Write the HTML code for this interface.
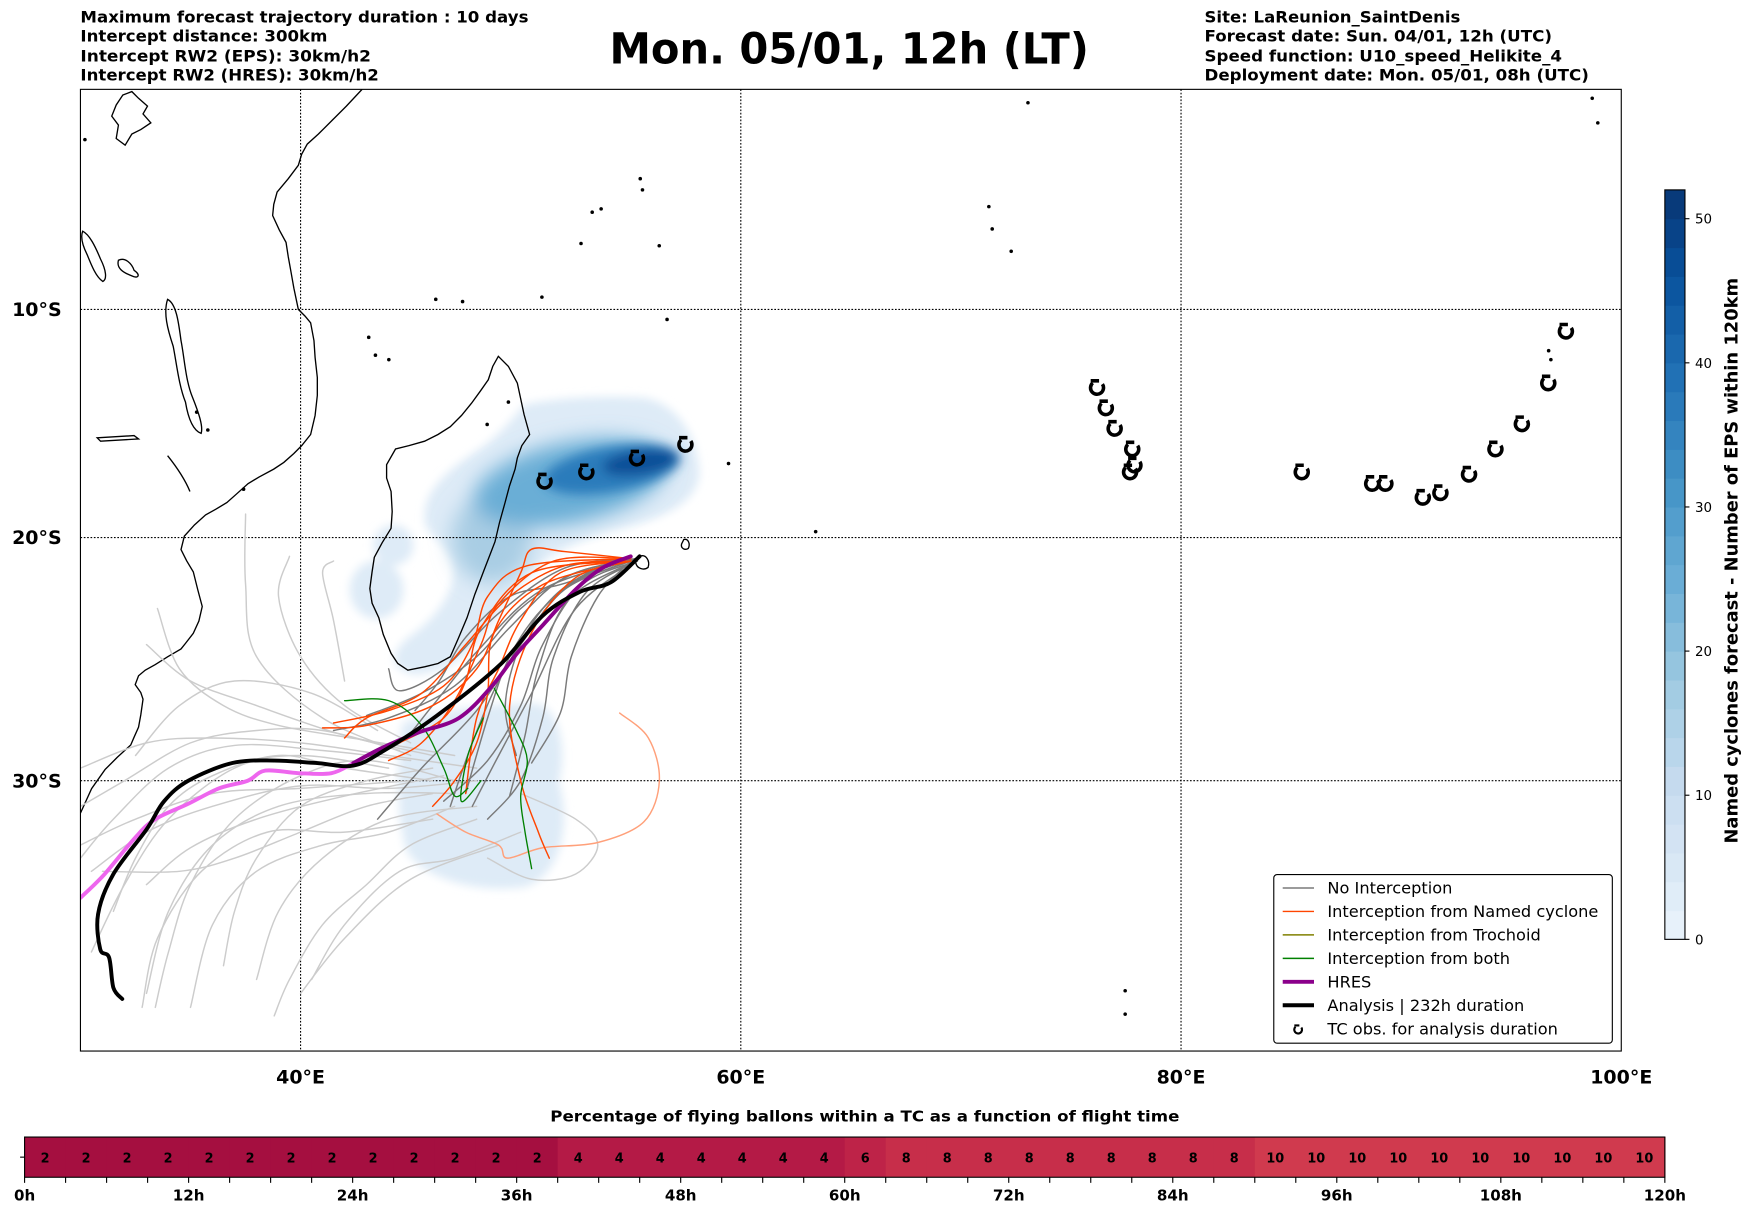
<!DOCTYPE html>
<html><head><meta charset="utf-8">
<style>
html,body{margin:0;padding:0;background:#fff;}
svg{display:block;}
text{font-family:"DejaVu Sans","Liberation Sans",sans-serif;}
</style></head>
<body>
<svg id="fig" xmlns="http://www.w3.org/2000/svg" width="1752" height="1213" viewBox="0 0 1568 1086" preserveAspectRatio="none">
<defs>
<filter id="blur" x="-50%" y="-50%" width="200%" height="200%"><feGaussianBlur stdDeviation="9"/></filter>
<filter id="blurh" x="-50%" y="-50%" width="200%" height="200%"><feGaussianBlur stdDeviation="4"/></filter>
<filter id="blur2" x="-50%" y="-50%" width="200%" height="200%"><feGaussianBlur stdDeviation="5"/></filter>
<clipPath id="mapclip"><rect x="72" y="80" width="1379" height="861"/></clipPath>
</defs>
<g font-weight="bold" font-size="14.3">
<text x="72" y="20" textLength="401" lengthAdjust="spacingAndGlyphs">Maximum forecast trajectory duration : 10 days</text>
<text x="72" y="37" textLength="221" lengthAdjust="spacingAndGlyphs">Intercept distance: 300km</text>
<text x="72" y="55" textLength="260" lengthAdjust="spacingAndGlyphs">Intercept RW2 (EPS):  30km/h2</text>
<text x="72" y="72" textLength="267" lengthAdjust="spacingAndGlyphs">Intercept RW2 (HRES): 30km/h2</text>
</g>
<text x="760" y="57" text-anchor="middle" font-weight="bold" font-size="38" textLength="429" lengthAdjust="spacingAndGlyphs">Mon. 05/01, 12h (LT)</text>
<g font-weight="bold" font-size="14.3">
<text x="1078" y="20" textLength="229" lengthAdjust="spacingAndGlyphs">Site: LaReunion_SaintDenis</text>
<text x="1078" y="37" textLength="311" lengthAdjust="spacingAndGlyphs">Forecast date: Sun. 04/01, 12h (UTC)</text>
<text x="1078" y="55" textLength="320" lengthAdjust="spacingAndGlyphs">Speed function: U10_speed_Helikite_4</text>
<text x="1078" y="72" textLength="344" lengthAdjust="spacingAndGlyphs">Deployment date: Mon. 05/01, 08h (UTC)</text>
</g>
<g id="map" clip-path="url(#mapclip)"></g>
<rect x="72" y="80" width="1379" height="861" fill="none" stroke="#000" stroke-width="1"/>
<g id="axes"></g>
<g id="legend"></g>
<g id="cbar"></g>
<g id="pbar"></g>
</svg>
<script>
// ---------- data ----------
const lonTicks = [40, 60, 80, 100];
const latTicks = [10, 20, 30];
const analysisTrack = [[55.4,20.8],[54.1,21.9],[52.7,22.3],[51.0,23.3],[49.1,25.3],[46.2,27.4],[43.8,28.8],[42.4,29.4],[40.7,29.3],[38.8,29.2],[36.9,29.3],[34.9,30.0],[33.8,30.8],[33.0,31.9],[31.5,33.6],[30.8,35.1],[30.9,36.4],[31.3,36.7],[31.5,37.8],[31.9,38.2]];
const hresTrack = [[55.0,20.8],[53.7,21.3],[52.5,22.2],[51.0,23.7],[49.8,24.9],[48.7,26.2],[47.2,27.5],[45.3,28.1],[43.7,28.7],[42.4,29.3]];
const hresTail = [[42.4,29.3],[41.4,29.7],[39.9,29.7],[38.4,29.6],[37.6,30.0],[36.3,30.3],[34.9,30.9],[33.4,31.5],[32.5,32.2],[31.1,33.6],[30.0,34.5]];
const lightTracks = [
 [[48,29.5],[44,29],[40,28.5],[36,28.3],[33,28.5],[30,29.5]],
 [[48,30],[44,30.3],[40,30.2],[36,31],[33,32],[30.5,33.5]],
 [[47,30.5],[43,30.5],[39,31],[36,32.5],[34,35],[33,38]],
 [[46,29],[42,28.2],[38,27],[35,26],[33,24.5]],
 [[45,29],[41,27.5],[38,25],[37.5,22],[37.5,19]],
 [[46,30],[42,29.5],[39,29],[36,29.8],[34,31],[32.5,33],[31.5,35]],
 [[47,31],[44,32],[41,32.5],[38,33.5],[36,35.5],[35,38.5]],
 [[48,31.5],[45,32.5],[43,34],[41,35.5],[39.5,37.5],[38.8,38.8]],
 [[46,29.5],[43,30],[40,31],[38,33],[37,35],[36.5,37]],
 [[47,30],[43,29.2],[40,29.8],[37,31.5],[35,34],[34,36.5],[33.4,38.5]],
 [[44.5,28.8],[41,28],[38,28],[35,28.5],[32,30],[30,31]],
 [[50,32],[47,33],[44.5,33.5],[42,35.5],[40.5,37.5]],
 [[50,30.5],[52.5,31.5],[53.5,32.5],[52.5,33.6],[50.5,33.8],[48.5,33]],
 [[45,28.5],[42,27],[40,25],[39,22.5],[39.5,20.8]],
 [[43.5,28],[40.5,26.5],[37,26],[34.5,27],[32.5,29]],
 [[42,26],[41.5,23.5],[41,21.5],[41.5,21]],
 [[46,30.5],[43,31],[40,32],[37,33],[34.5,33.5],[31,33.5]],
 [[48,31],[44,31.5],[41,33],[39,35],[38,37.5]],
 [[45,30],[40,30.3],[36,30.5],[32.5,31.5],[30,32.5]],
 [[49,32.5],[45,33.8],[42,36],[40,38]],
 [[44,29.5],[40,29],[37,29.5],[34,31.5],[32,34],[30.5,36.5]],
 [[46,31.5],[42,32],[38.5,32],[35.5,33.5],[33.5,36],[32.8,38.5]],
 [[47,29],[43,28.4],[39,27.8],[36.5,27],[34.5,25.5],[33.5,23]],
 [[45,29.2],[41,28.8],[37,28.6],[34,29.5],[31.5,31.5],[30,33]],
 [[46.5,29.8],[42,30.6],[38,31.5],[35,32.6],[33,34]]
];
const darkTracks = [
 [[55.3,20.9],[53,21.6],[51,23],[49.5,25],[48.5,27.5],[47.5,30.5]],
 [[55.3,20.9],[52.5,21.8],[50.5,23.8],[49,26],[47.8,28.5],[46.8,31]],
 [[55.3,20.9],[53.5,21.3],[51.5,22.5],[50,24.5],[49.3,27],[49.8,29]],
 [[55.3,21],[52.8,22],[51,24.5],[50,27],[48.5,29.2],[46.5,30.8]],
 [[55.3,20.9],[52,21.7],[49.5,23.8],[47,26.2],[44,27.5],[41.5,28]],
 [[55.3,20.9],[52.5,21.5],[50,23],[48,25],[45.5,26.5],[43,27.4]],
 [[55.3,21],[53,22.3],[51.5,25],[51,27.5],[50,30],[48.5,31.5]],
 [[55,21],[53.5,22.5],[52.3,25],[51.8,27.3],[50.5,29.3]],
 [[55,21],[52,22.2],[50,24.5],[48,27.2],[45.5,29.5],[43.5,31.5]],
 [[55,21],[51.8,22],[49.5,22.5],[47.5,24.2],[46.3,26],[45.2,27.2]],
 [[55.3,20.9],[51,22.2],[48,24.8],[46,27],[44.5,28.5],[42.5,29.2]],
 [[55.3,21],[52.5,23],[50.5,26.5],[49,29],[47.8,31]],
 [[55.2,21],[52.2,22.6],[50.8,25.5],[50.2,28.2],[49.5,30.6]],
 [[55.2,20.9],[52,21.3],[49,23.2],[46.5,25.5],[44.5,26.4],[44,25.5]]
];
const orangeTracks = [
 [[55,20.9],[52,20.6],[50.5,20.5],[50,21.5],[49,23.5],[48,25.5],[46,27],[43,27.8],[41,27.9]],
 [[55,21],[52,21.2],[49.5,22.5],[47.5,24.5],[45.5,26.5],[43,27.5],[42,28.3]],
 [[55,20.9],[51.5,21],[49,22.8],[48.2,24.5],[47,26.8],[45.5,28.5],[44,29.2]],
 [[55,21],[51,22],[48.8,24],[48.5,26.5],[48,28.5],[47,30],[46,31]],
 [[55,21],[50.5,21.5],[48.2,23.8],[47.5,26],[46.5,27.5],[44.5,28.5]],
 [[55,21],[52.5,21.7],[50.5,24],[49.5,27],[50,30],[50.8,32],[51.3,33]],
 [[55,21],[51.8,21.5],[50,23.5],[49,25.5],[48,27.5],[47.5,30.5]],
 [[55,20.9],[50.3,21.2],[48.5,22.5],[47.8,24.5],[46.5,26.2],[44,27.2],[41.5,27.7]]
];
const salmonTrack = [[54.5,27.3],[55.8,28.3],[56.3,30],[55.6,31.6],[53.5,32.4],[51,32.6],[49.4,33],[49,32.5],[47.5,32],[46.2,31.3]];
const greenTracks = [
 [[48.8,26.3],[49.8,28],[50.3,29.2],[50,30.6],[50.2,32],[50.5,33.4]],
 [[42,26.8],[44,26.8],[45.5,27.8],[46.5,29.5],[47,30.6],[47.6,30.3]],
 [[48.3,27.5],[47.6,29],[47.3,30.8],[48.2,30.0]]
];
const tcLon = [51.1,53.0,55.3,57.5,76.2,76.6,77.0,77.8,77.9,77.7,85.5,88.7,89.3,91.0,91.8,93.1,94.3,95.5,96.7,97.5];
const tcLat = [17.6,17.2,16.6,16.0,13.5,14.4,15.3,16.2,16.9,17.2,17.2,17.7,17.7,18.3,18.1,17.3,16.2,15.1,13.3,11.0];
const cbarTicks = [0,10,20,30,40,50];
const pctValues = [2,2,2,2,2,2,2,2,2,2,2,2,2,4,4,4,4,4,4,4,6,8,8,8,8,8,8,8,8,8,10,10,10,10,10,10,10,10,10,10];
const hourTicks = [0,12,24,36,48,60,72,84,96,108,120];

// ---------- projection ----------
const NS="http://www.w3.org/2000/svg";
function X(lon){return 72+(lon-30)*19.7;}
function Y(lat){return 79+1128.7*Math.log(Math.tan(Math.PI/4+lat*Math.PI/360));}
function mk(tag,attrs,parent){const e=document.createElementNS(NS,tag);for(const k in attrs)e.setAttribute(k,attrs[k]);parent.appendChild(e);return e;}
function smooth(pts){
 const p=pts.map(q=>[X(q[0]),Y(q[1])]);
 let d="M"+p[0][0].toFixed(1)+","+p[0][1].toFixed(1);
 for(let i=0;i<p.length-1;i++){
  const p0=p[i-1]||p[i],p1=p[i],p2=p[i+1],p3=p[i+2]||p2;
  const c1=[p1[0]+(p2[0]-p0[0])/6,p1[1]+(p2[1]-p0[1])/6];
  const c2=[p2[0]-(p3[0]-p1[0])/6,p2[1]-(p3[1]-p1[1])/6];
  d+="C"+c1[0].toFixed(1)+","+c1[1].toFixed(1)+" "+c2[0].toFixed(1)+","+c2[1].toFixed(1)+" "+p2[0].toFixed(1)+","+p2[1].toFixed(1);
 }
 return d;
}
const map=document.getElementById('map');

// density field (blurred shapes)
const densH=mk('g',{filter:'url(#blurh)'},map);


mk('path',{d:'M380,465 C378,435 410,415 432,400 C452,385 462,370 470,362 C500,356 540,354 575,356 C605,360 625,390 626,425 C622,455 585,466 545,476 C505,488 472,505 452,540 C432,575 412,600 372,604 C346,600 348,582 372,566 C398,546 410,520 405,502 C396,482 380,478 380,465 Z',fill:'#deebf7'},densH);
mk('path',{d:'M360,648 C380,638 440,628 482,630 C505,640 506,680 500,700 C510,730 506,782 470,794 C430,800 380,788 364,762 C354,730 356,680 360,648 Z',fill:'#deebf7'},densH);
mk('ellipse',{cx:337,cy:528,rx:24,ry:26,fill:'#deebf7'},densH);
mk('ellipse',{cx:352,cy:488,rx:18,ry:18,fill:'#deebf7'},densH);
const dens=mk('g',{filter:'url(#blur)'},map);


mk('ellipse',{cx:440,cy:482,rx:36,ry:40,fill:'#a9cde4'},dens);
mk('ellipse',{cx:510,cy:432,rx:88,ry:36,fill:'#6aaed6',transform:'rotate(-12 510 432)'},dens);
const dens2=mk('g',{filter:'url(#blur2)'},map);
mk('ellipse',{cx:548,cy:420,rx:62,ry:20,fill:'#2c7cbb',transform:'rotate(-10 548 420)'},dens2);
mk('ellipse',{cx:573,cy:414,rx:34,ry:11,fill:'#0b4f98',transform:'rotate(-8 573 414)'},dens2);

// gridlines
latTicks.forEach(t=>{const l=mk('line',{x1:72,x2:1451,y1:Y(t),y2:Y(t),stroke:'#000','stroke-width':1,'stroke-dasharray':'1.5,1.5'},map);
 
 });
lonTicks.slice(0,3).forEach(t=>{const l=mk('line',{x1:X(t),x2:X(t),y1:80,y2:941,stroke:'#000','stroke-width':1,'stroke-dasharray':'1.5,1.5'},map);
 
 });

// coastlines
const coast=mk('g',{fill:'none',stroke:'#000','stroke-width':1.2},map);


mk('path',{d:'M324,80 L310,95 L297,108 L285,120 L275,129 L270,138 L267,148 L258,160 L248,172 L245,183 L244,193 L250,206 L256,217 L258,230 L260,241 L263,258 L267,277 L273,283 L278,289 L281,305 L282,320 L284,338 L284,354 L282,372 L278,389 L270,399 L263,406 L254,414 L245,420 L232,427 L222,433 L212,442 L203,450 L193,456 L184,461 L174,470 L165,480 L162,492 L167,502 L173,512 L177,528 L181,543 L178,556 L173,567 L166,576 L162,581 L150,588 L139,595 L130,600 L124,605 L121,613 L126,620 L128,626 L126,640 L124,651 L120,660 L117,667 L105,678 L94,689 L82,706 L72,728'},coast);
mk('path',{d:'M446,319 L455,328 L463,343 L466,357 L469,371 L474,389 L467,399 L463,410 L461,420 L456,435 L452,450 L447,468 L443,485 L438,498 L433,511 L425,532 L418,553 L410,572 L403,588 L392,594 L380,597 L365,600 L356,594 L350,585 L343,568 L339,553 L333,540 L331,527 L333,512 L335,499 L342,486 L350,473 L351,458 L350,440 L346,428 L346,416 L354,402 L366,399 L380,395 L392,389 L403,382 L413,372 L422,361 L430,350 L437,340 L441,328 Z'},coast);
mk('path',{d:'M150,268 C158,272 160,290 162,305 C165,320 166,340 172,355 C178,370 182,382 180,388 C172,385 168,372 166,360 C160,345 158,325 155,310 C150,295 146,280 150,268 Z'},coast);
mk('path',{d:'M74,207 C80,210 85,220 90,232 C95,242 96,250 92,252 C86,248 82,238 78,228 C74,220 72,212 74,207 Z'},coast);
mk('path',{d:'M106,233 C112,230 118,236 120,242 C126,246 124,250 118,247 C110,244 104,240 106,233 Z'},coast);
mk('path',{d:'M87,392 L120,390 L124,393 L90,395 Z'},coast);
mk('path',{d:'M110,85 L118,82 L124,88 L132,95 L128,102 L135,110 L126,116 L118,120 L112,130 L104,124 L106,112 L100,104 L104,94 Z'},coast);
mk('path',{d:'M150,408 C158,418 165,428 170,440'},coast);
mk('path',{d:'M573,498 C578,496 582,502 580,508 C576,511 570,509 569,504 C569,501 571,499 573,498 Z','stroke-width':1.2},coast);
mk('path',{d:'M612,483 C616,482 618,487 616,491 C613,493 609,491 610,487 Z'},coast);
[[330,302],[336,318],[348,322],[390,268],[414,270],[485,266],[520,218],[530,190],[538,187],[573,160],[575,170],[590,220],[597,286],[652,415],[730,476],[885,185],[888,205],[905,225],[920,92],[1007,887],[1007,908],[1425,88],[1430,110],[1386,314],[1388,322],[186,385],[176,369],[218,438],[436,380],[455,360],[76,125]].forEach(p=>{
 mk('circle',{cx:p[0],cy:p[1],r:1.6,fill:'#000',stroke:'none'},coast);
});

// tracks
function track(pts,color,w,name,parent){
 const p=mk('path',{d:smooth(pts),fill:'none',stroke:color,'stroke-width':w,'stroke-linejoin':'round','stroke-linecap':'round'},parent);
 
 
 return p;
}
const tg=mk('g',{},map);


lightTracks.forEach(t=>track(t,'#cccccc',1.3,'light-trajectory',tg));
track(salmonTrack,'#ffa07a',1.3,'salmon-trajectory',tg);
darkTracks.forEach(t=>track(t,'#7a7a7a',1.3,'no-interception-trajectory',tg));
orangeTracks.forEach(t=>track(t,'#ff4500',1.3,'named-cyclone-interception-trajectory',tg));
greenTracks.forEach(t=>track(t,'#008000',1.2,'both-interception-trajectory',tg));
track(hresTail,'#ee66ee',3.5,'hres-tail-line',tg);
track(hresTrack,'#8b008b',3.5,'hres-line',tg);
track(analysisTrack,'#000000',3.5,'analysis-line',tg);

// TC markers
function tcMarker(cx,cy,parent){
 const g=mk('g',{transform:'translate('+cx+','+cy+')'},parent);
 mk('path',{d:'M-6,-6.5 L1.5,-6.5 M4.5,-3.5 A5.8,5.8 0 1 1 -4.2,-4.6',fill:'none',stroke:'#000','stroke-width':3.2},g);
 return g;
}
const tcg=mk('g',{},map);


tcLon.forEach((lon,i)=>{const m=tcMarker(X(lon),Y(tcLat[i]),tcg);
 
 });

// axes labels
const ax=document.getElementById('axes');
lonTicks.forEach(t=>{const e=mk('text',{x:X(t),y:970,'text-anchor':'middle','font-size':17,'font-weight':'bold'},ax);e.textContent=t+'°E';
 
 });
latTicks.forEach(t=>{const e=mk('text',{x:33,y:Y(t)+6,'text-anchor':'middle','font-size':17,'font-weight':'bold'},ax);e.textContent=t+'°S';
 
 });

// legend
const lg=document.getElementById('legend');
mk('rect',{x:1140,y:783,width:303,height:151,rx:3,fill:'#fff',stroke:'#000','stroke-width':1},lg);
const legItems=[['No Interception','#7a7a7a',1.3],['Interception from Named cyclone','#ff4500',1.3],['Interception from Trochoid','#808000',1.3],['Interception from both','#008000',1.3],['HRES','#8b008b',3.5],['Analysis | 232h duration','#000',3.5],['TC obs. for analysis duration',null,0]];
legItems.forEach((it,i)=>{
 const y=795+i*21;
 const g=mk('g',{},lg);
 
 
 if(it[1]) mk('line',{x1:1148,x2:1176,y1:y,y2:y,stroke:it[1],'stroke-width':it[2]},g);
 else {const m=tcMarker(1162,y+1,g);m.setAttribute('transform','translate(1162,'+(y+1)+') scale(0.6)');}
 const t=mk('text',{x:1188,y:y+5,'font-size':14.5},g);t.textContent=it[0];
});

// colorbar
const cb=document.getElementById('cbar');
const blues=['#f7fbff','#deebf7','#c6dbef','#9ecae1','#6baed6','#4292c6','#2171b5','#08519c','#08306b'];
function lerpc(a,b,t){const pa=[1,3,5].map(i=>parseInt(a.substr(i,2),16)),pb=[1,3,5].map(i=>parseInt(b.substr(i,2),16));return 'rgb('+pa.map((v,i)=>Math.round(v+(pb[i]-v)*t)).join(',')+')';}
function bl(v){const f=Math.min(0.999,Math.max(0,(v/52)*0.92+0.06))*(blues.length-1);const i=Math.floor(f);return lerpc(blues[i],blues[i+1],f-i);}
const cbTop=170,cbBot=841,cbMax=52;
function CY(v){return cbBot-(v/cbMax)*(cbBot-cbTop);}
for(let v=0;v<cbMax;v+=2){mk('rect',{x:1490,y:CY(v+2),width:18,height:CY(v)-CY(v+2)+0.5,fill:bl(v+1)},cb);}
mk('rect',{x:1490,y:cbTop,width:18,height:cbBot-cbTop,fill:'none',stroke:'#000','stroke-width':1},cb);
cbarTicks.forEach(t=>{mk('line',{x1:1508,x2:1512,y1:CY(t),y2:CY(t),stroke:'#000'},cb);
 const e=mk('text',{x:1517,y:CY(t)+4.5,'font-size':12},cb);e.textContent=t;
 
 });
const cbt=mk('text',{x:0,y:0,'font-size':16,'font-weight':'bold','text-anchor':'middle',transform:'translate(1555,502) rotate(-90)'},cb);
cbt.textContent='Named cyclones forecast - Number of EPS within 120km';



// percentage bar
const pb=document.getElementById('pbar');
const pbL=22,pbR=1490,pbT=1018,pbB=1054;
function HX(h){return pbL+(h/120)*(pbR-pbL);}
const pt=mk('text',{x:774,y:1004,'font-size':13.5,'font-weight':'bold','text-anchor':'middle',textLength:563,lengthAdjust:'spacingAndGlyphs'},pb);
pt.textContent='Percentage of flying ballons within a TC as a function of flight time';


const pcol={2:'#a50f40',4:'#b41a46',6:'#be2348',8:'#c72e4a',10:'#d03a4e'};
pctValues.forEach((v,i)=>{
 const r=mk('rect',{x:HX(i*3),y:pbT,width:HX(3)-HX(0)+0.6,height:pbB-pbT,fill:pcol[v]},pb);
 
 
 const t=mk('text',{x:HX(i*3+1.5),y:pbT+23,'font-size':11.5,'font-weight':'bold','text-anchor':'middle'},pb);t.textContent=v;
 mk('line',{x1:HX(i*3),x2:HX(i*3),y1:pbB,y2:pbB+5,stroke:'#000'},pb);
});
mk('line',{x1:HX(120),x2:HX(120),y1:pbB,y2:pbB+5,stroke:'#000'},pb);
mk('line',{x1:pbL-4,x2:pbL,y1:(pbT+pbB)/2,y2:(pbT+pbB)/2,stroke:'#000'},pb);
mk('rect',{x:pbL,y:pbT,width:pbR-pbL,height:pbB-pbT,fill:'none',stroke:'#000','stroke-width':1},pb);
hourTicks.forEach(h=>{const e=mk('text',{x:HX(h),y:1075,'font-size':13.5,'font-weight':'bold','text-anchor':'middle'},pb);e.textContent=h+'h';
 
 });
</script>
</body></html>
